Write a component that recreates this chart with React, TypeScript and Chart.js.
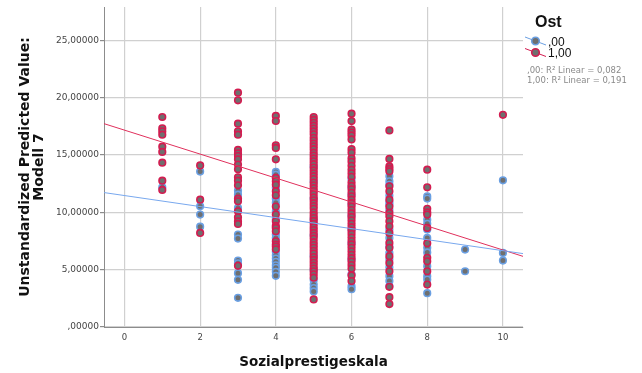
import React, { useEffect, useRef } from 'react';
import { Chart, registerables } from 'chart.js';

Chart.register(...registerables);

// Sozialprestigeskala levels (x categories)
const prestigeLevels = [1, 2, 3, 4, 5, 6, 7, 8, 9, 10];

// Ost = ,00 : predicted values per prestige level
const ost0Values: number[][] = [
  [12.18],
  [13.55, 10.52, 9.8, 8.75],
  [11.89, 11.54, 10.38, 8.06, 7.71, 5.79, 5.56, 4.69, 4.11, 2.54],
  [13.52, 13.28, 12.13, 11.19, 10.84, 10.09, 9.39, 8.06, 7.77, 6.55, 6.25, 5.97, 5.68, 5.38, 5.16, 4.81, 4.46],
  [14.0, 12.7, 11.2, 9.4, 8.0, 6.2, 5.0, 4.1, 3.7, 3.4, 3.1],
  [12.9, 12.2, 11.5, 10.7, 9.7, 8.5, 7.3, 5.9, 4.6, 3.55, 3.3],
  [13.14, 12.7, 12.4, 11.45, 10.9, 10.67, 10.2, 8.5, 7.77, 7.0, 6.46, 5.9, 5.2, 4.43, 4.0, 3.55],
  [11.4, 11.2, 9.36, 9.0, 8.5, 7.77, 6.9, 6.5, 5.3, 4.43, 4.14, 2.95],
  [6.75, 4.86],
  [12.79, 6.46, 5.79],
];

// Ost = 1,00 : predicted values per prestige level
const ost1Values: number[][] = [
  [18.31, 17.32, 17.06, 16.77, 15.72, 15.26, 14.33, 12.76, 11.95],
  [14.09, 11.1, 8.2],
  [20.43, 19.76, 17.73, 17.06, 16.77, 15.44, 15.14, 14.91, 14.62, 14.16, 13.75, 13.05, 12.76, 12.35, 11.19, 10.96, 10.09, 9.56, 9.22, 8.99, 5.33],
  [18.4, 17.96, 15.84, 15.61, 14.62, 13.0, 12.7, 12.41, 11.83, 11.48, 10.5, 9.8, 9.22, 8.81, 8.64, 8.35, 7.47, 7.19, 7.01, 6.78],
  [18.3, 18.05, 17.8, 17.55, 17.3, 17.05, 16.8, 16.5, 16.25, 16.0, 15.75, 15.5, 15.2, 14.95, 14.7, 14.45, 14.2, 13.9, 13.65, 13.4, 13.15, 12.9, 12.6, 12.35, 12.1, 11.85, 11.6, 11.3, 11.05, 10.8, 10.55, 10.3, 10.0, 9.75, 9.5, 9.25, 9.0, 8.7, 8.45, 8.2, 7.95, 7.7, 7.4, 7.15, 6.9, 6.65, 6.4, 6.1, 5.85, 5.6, 5.35, 5.1, 4.85, 4.6, 4.3, 2.4],
  [18.6, 17.95, 17.2, 16.95, 16.7, 16.35, 15.5, 15.2, 14.7, 14.4, 14.05, 13.7, 13.4, 13.1, 12.6, 12.3, 12.0, 11.7, 11.4, 11.1, 10.8, 10.5, 10.2, 9.9, 9.6, 9.3, 9.0, 8.7, 8.4, 8.1, 7.8, 7.5, 7.2, 6.9, 6.6, 6.3, 6.0, 5.7, 5.4, 5.1, 4.5, 4.0],
  [17.14, 14.65, 14.0, 13.78, 13.57, 12.27, 11.83, 11.1, 10.5, 9.95, 9.65, 9.22, 8.78, 8.2, 7.33, 6.9, 6.17, 5.59, 4.86, 3.5, 2.6, 2.0],
  [13.72, 12.18, 10.3, 10.0, 9.8, 8.64, 7.3, 6.03, 5.73, 4.86, 3.7],
  [],
  [18.5],
];

// Linear fit lines (end points across the x range)
const fitX = [-0.54, 10.53];
const fitOst0 = [11.72, 6.4];
const fitOst1 = [17.73, 6.16];

const xTicks = [0, 2, 4, 6, 8, 10];
const yTicks = [0, 5, 10, 15, 20, 25];
const groupLabels = [',00', '1,00'];
const rSquared = ['0,082', '0,191'];

const BLUE = '#6a9fe2';
const RED = '#d31c50';
const FILL = '#6f6f6f';

function toPoints(values: number[][]) {
  return prestigeLevels.flatMap((lv, i) => values[i].map((v) => ({ x: lv, y: v })));
}

function fmtY(v: number) {
  if (v === 0) return ',00000';
  return v.toFixed(5).replace('.', ',');
}

const legendPlugin = {
  id: 'ostLegend',
  afterDraw(chart: any) {
    const ctx = chart.ctx as CanvasRenderingContext2D;
    const x0 = chart.chartArea.right;
    ctx.save();
    ctx.fillStyle = '#111';
    ctx.font = 'bold 16px "Liberation Sans"';
    ctx.textBaseline = 'alphabetic';
    ctx.textAlign = 'left';
    ctx.fillText('Ost', x0 + 12, 27);

    const colors = [BLUE, RED];
    const rows = [41, 52.5];
    groupLabels.forEach((lab, i) => {
      const cy = rows[i];
      ctx.strokeStyle = colors[i];
      ctx.lineWidth = 1;
      ctx.beginPath();
      ctx.moveTo(x0 + 2, cy - 4);
      ctx.lineTo(x0 + 23, cy + 4);
      ctx.stroke();
      ctx.beginPath();
      ctx.arc(x0 + 12.5, cy, 3.8, 0, Math.PI * 2);
      ctx.fillStyle = FILL;
      ctx.fill();
      ctx.lineWidth = 1.6;
      ctx.strokeStyle = colors[i];
      ctx.stroke();
      ctx.fillStyle = '#111';
      ctx.font = '12px "Liberation Sans"';
      ctx.textBaseline = 'middle';
      ctx.fillText(lab, x0 + 25, cy + 1.5);
    });

    ctx.fillStyle = '#8a8a8a';
    ctx.font = '8.5px "DejaVu Sans"';
    ctx.textBaseline = 'middle';
    groupLabels.forEach((lab, i) => {
      ctx.fillText(`${lab}: R² Linear = ${rSquared[i]}`, x0 + 4, 71 + i * 10);
    });
    ctx.restore();
  },
};

export default function App() {
  const ref = useRef<HTMLCanvasElement | null>(null);

  useEffect(() => {
    document.body.style.margin = '0';
    document.body.style.overflow = 'hidden';
    const canvas = ref.current;
    if (!canvas) return;
    const chart = new Chart(canvas, {
      type: 'scatter',
      data: {
        datasets: [
          {
            label: 'Fit ,00',
            data: fitX.map((x, i) => ({ x, y: fitOst0[i] })),
            showLine: true,
            borderColor: '#78a8ee',
            borderWidth: 1,
            pointRadius: 0,
            order: 0,
          },
          {
            label: 'Fit 1,00',
            data: fitX.map((x, i) => ({ x, y: fitOst1[i] })),
            showLine: true,
            borderColor: '#e0305c',
            borderWidth: 1,
            pointRadius: 0,
            order: 0,
          },
          {
            label: groupLabels[1],
            data: toPoints(ost1Values),
            backgroundColor: FILL,
            borderColor: RED,
            borderWidth: 1.6,
            pointRadius: 3.3,
            order: 1,
          },
          {
            label: groupLabels[0],
            data: toPoints(ost0Values),
            backgroundColor: FILL,
            borderColor: BLUE,
            borderWidth: 1.6,
            pointRadius: 3.3,
            order: 2,
          },
        ] as any,
      },
      options: {
        responsive: false,
        animation: false,
        layout: { padding: { top: 7, right: 119, left: 0, bottom: 0 } },
        plugins: {
          legend: { display: false },
          tooltip: { enabled: false },
        },
        scales: {
          x: {
            type: 'linear',
            min: fitX[0],
            max: fitX[1],
            afterBuildTicks: (s: any) => {
              s.ticks = xTicks.map((v) => ({ value: v }));
            },
            afterFit: (s: any) => {
              s.height = 46;
              s.paddingLeft = 0;
              s.paddingRight = 0;
            },
            grid: { color: '#d0d0d0', lineWidth: 1.2, tickLength: 4, tickColor: 'rgba(0,0,0,0)' },
            border: { color: '#8c8c8c', width: 1 },
            ticks: {
              font: { family: 'DejaVu Sans', size: 8.5 },
              color: '#444',
              padding: 2,
              maxRotation: 0,
              autoSkip: false,
              callback: (v: any) => String(v),
            },
            title: {
              display: true,
              text: 'Sozialprestigeskala',
              font: { family: 'DejaVu Sans', size: 13.5, weight: 'bold', lineHeight: 1.1 },
              color: '#111',
              padding: { top: 0, bottom: 3 },
            },
          },
          y: {
            type: 'linear',
            min: 0,
            max: 27.9,
            afterBuildTicks: (s: any) => {
              s.ticks = yTicks.map((v) => ({ value: v }));
            },
            afterFit: (s: any) => {
              s.width = 104;
              s.paddingTop = 0;
              s.paddingBottom = 0;
            },
            grid: { color: '#d0d0d0', lineWidth: 1.2, tickLength: 4, tickColor: '#8c8c8c' },
            border: { color: '#8c8c8c', width: 1 },
            ticks: {
              font: { family: 'DejaVu Sans', size: 9 },
              color: '#444',
              padding: 1,
              autoSkip: false,
              callback: (v: any) => fmtY(Number(v)),
            },
            title: {
              display: true,
              text: ['Unstandardized Predicted Value:', 'Modell 7'],
              font: { family: 'DejaVu Sans', size: 14, weight: 'bold', lineHeight: 1 },
              color: '#111',
              padding: { top: 18, bottom: 0 },
            },
          },
        },
      } as any,
      plugins: [legendPlugin],
    });
    return () => chart.destroy();
  }, []);

  return (
    <div style={{ width: 642, height: 373 }}>
      <canvas ref={ref} width={642} height={373} style={{ display: 'block' }} />
    </div>
  );
}
